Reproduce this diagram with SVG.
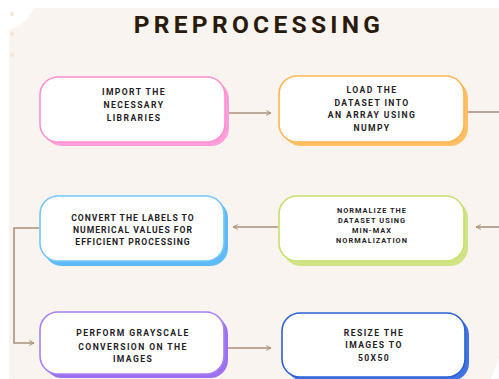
<svg xmlns="http://www.w3.org/2000/svg" width="499" height="379" viewBox="0 0 499 379">
<style>
.t{font-family:Roboto,"Liberation Sans",sans-serif;font-weight:700;fill:#1f1d26;text-anchor:middle;letter-spacing:1px}
.s{font-size:8.6px}
.w{letter-spacing:1.4px}
.m{font-size:7.4px}
.box{fill:#fff;stroke-width:1.6}
.c{fill:none;stroke:#a8927c;stroke-width:1.6}
</style>
<defs>
<marker id="a" viewBox="0 0 10 10" refX="9" refY="5" markerWidth="6" markerHeight="6" orient="auto-start-reverse" markerUnits="userSpaceOnUse">
<path d="M1,1 L9,5 L1,9" fill="none" stroke="#a8927c" stroke-width="1.6"/>
</marker>
</defs>
<rect width="499" height="379" fill="#fff"/>
<path d="M34,8 H499 V358 L491,379 H9 V30 A39,39 0 0 0 34,8 Z" fill="#f9f4ef"/>
<g fill="#f6e4d6"><circle cx="12" cy="14" r="2"/><circle cx="12" cy="34" r="2"/><circle cx="12" cy="55" r="2"/></g>
<text x="259" y="33" style="font-family:Roboto,'Liberation Sans',sans-serif;font-weight:700;font-size:24.5px;letter-spacing:4.3px;fill:#2a1a0c" text-anchor="middle">PREPROCESSING</text>
<g id="connectors">
<line class="c" x1="229" y1="113" x2="271" y2="113" marker-end="url(#a)"/>
<line class="c" x1="468" y1="112" x2="499" y2="112"/>
<line class="c" x1="499" y1="227" x2="476" y2="227" marker-end="url(#a)"/>
<line class="c" x1="278" y1="227" x2="233" y2="227" marker-end="url(#a)"/>
<polyline class="c" points="39,228 14,228 14,343 34,343" marker-end="url(#a)"/>
<line class="c" x1="228" y1="348" x2="271" y2="348" marker-end="url(#a)"/>
</g>
<g id="n1">
<rect x="44" y="81" width="185" height="65" rx="18" fill="#ff9edb"/>
<rect class="box" x="40" y="77" width="185" height="65" rx="18" stroke="#ff8fd3"/>
<text class="t s w" x="134" y="95">IMPORT THE</text>
<text class="t s w" x="134" y="108">NECESSARY</text>
<text class="t s w" x="134" y="121">LIBRARIES</text>
</g>
<g id="n2">
<rect x="283" y="80" width="185" height="66" rx="18" fill="#ffbf66"/>
<rect class="box" x="279" y="76" width="185" height="66" rx="18" stroke="#ffb552"/>
<text class="t s w" x="372" y="93">LOAD THE</text>
<text class="t s w" x="372" y="106">DATASET INTO</text>
<text class="t s w" x="372" y="118">AN ARRAY USING</text>
<text class="t s w" x="372" y="131">NUMPY</text>
</g>
<g id="n3">
<rect x="283" y="200" width="185" height="66" rx="18" fill="#d0e487"/>
<rect class="box" x="279" y="196" width="185" height="65" rx="18" stroke="#c6df6e"/>
<text class="t m" x="372" y="213">NORMALIZE THE</text>
<text class="t m" x="372" y="223">DATASET USING</text>
<text class="t m" x="372" y="233">MIN-MAX</text>
<text class="t m" x="372" y="243">NORMALIZATION</text>
</g>
<g id="n4">
<rect x="44" y="200" width="184" height="66" rx="18" fill="#5fbaf8"/>
<rect class="box" x="40" y="196" width="184" height="65" rx="18" stroke="#72c6f8"/>
<text class="t s" x="133" y="221">CONVERT THE LABELS TO</text>
<text class="t s" x="133" y="233">NUMERICAL VALUES FOR</text>
<text class="t s" x="133" y="245">EFFICIENT PROCESSING</text>
</g>
<g id="n5">
<rect x="44" y="316" width="184" height="62" rx="18" fill="#9d70f0"/>
<rect class="box" x="40" y="312" width="184" height="62" rx="18" stroke="#a880f5"/>
<text class="t s w" x="133" y="336">PERFORM GRAYSCALE</text>
<text class="t s w" x="133" y="350">CONVERSION ON THE</text>
<text class="t s w" x="133" y="362">IMAGES</text>
</g>
<g id="n6">
<rect x="286" y="317" width="183" height="64" rx="18" fill="#4274e6"/>
<rect class="box" x="282" y="313" width="183" height="64" rx="18" stroke="#2c62d2"/>
<text class="t s w" x="374" y="336">RESIZE THE</text>
<text class="t s w" x="374" y="348">IMAGES TO</text>
<text class="t s w" x="374" y="361">50X50</text>
</g>
</svg>
